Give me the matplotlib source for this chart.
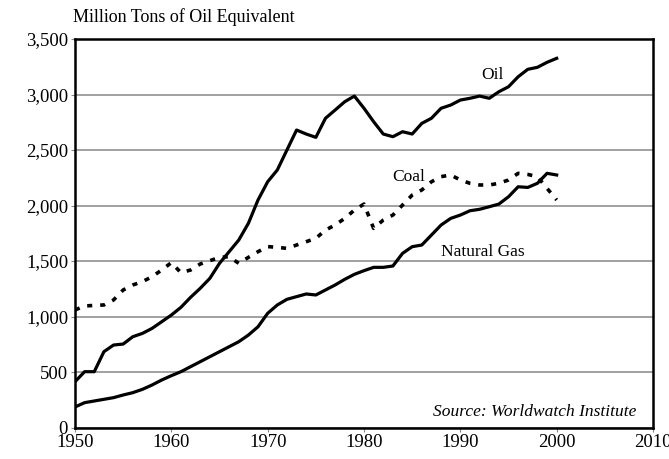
import matplotlib.pyplot as plt
import numpy as np

years = np.arange(1950, 2001)

oil = [413, 503, 503, 683, 743, 752, 818, 848, 893, 953,
       1013, 1083, 1173, 1254, 1344, 1479, 1584, 1689, 1840, 2050,
       2214, 2320, 2500, 2680, 2644, 2614, 2786, 2860, 2935, 2986,
       2876, 2755, 2644, 2620, 2665, 2644, 2740, 2786, 2876, 2905,
       2950, 2966, 2986, 2966, 3025, 3070, 3160, 3227, 3245, 3290,
       3326]

coal = [1059, 1095, 1100, 1104, 1149, 1239, 1284, 1314, 1359, 1419,
        1485, 1395, 1419, 1473, 1503, 1533, 1539, 1479, 1533, 1584,
        1630, 1623, 1614, 1644, 1674, 1704, 1779, 1824, 1884, 1959,
        2013, 1794, 1869, 1914, 2004, 2094, 2140, 2214, 2260, 2275,
        2230, 2200, 2185, 2185, 2200, 2230, 2290, 2280, 2260, 2155,
        2050]

gas = [185, 224, 239, 254, 269, 293, 314, 344, 383, 428,
       467, 503, 548, 593, 638, 683, 728, 773, 833, 908,
       1029, 1104, 1155, 1179, 1203, 1194, 1239, 1284, 1335, 1380,
       1413, 1443, 1443, 1455, 1569, 1629, 1644, 1734, 1824, 1884,
       1914, 1953, 1966, 1989, 2013, 2079, 2169, 2163, 2200, 2290,
       2275]

x_ticks = [1950, 1960, 1970, 1980, 1990, 2000, 2010]
y_ticks = [0, 500, 1000, 1500, 2000, 2500, 3000, 3500]

plt.rcParams['font.family'] = ['Liberation Serif', 'DejaVu Serif']

fig = plt.figure(figsize=(6.69, 4.59), dpi=100)
ax = fig.add_axes([0.1121, 0.0686, 0.8640, 0.8464])

ax.plot(years, oil, color="black", lw=2.3, solid_joinstyle="round")
ax.plot(years, gas, color="black", lw=2.3, solid_joinstyle="round")
ax.plot(years, coal, color="black", lw=2.6, linestyle=(0, (1.4, 2.2)))

# series labels
ax.text(1993.3, 3176, "Oil", fontsize=12.5, ha="center", va="center")
ax.text(1984.6, 2257, "Coal", fontsize=12.5, ha="center", va="center")
ax.text(1992.3, 1581, "Natural Gas", fontsize=12.5, ha="center", va="center")
ax.text(2008.3, 140, "Source: Worldwatch Institute", fontsize=12.5,
        style="italic", ha="right", va="center")

ax.set_xlim(1950, 2010)
ax.set_ylim(0, 3500)
ax.set_xticks(x_ticks)
ax.set_yticks(y_ticks)
ax.set_yticklabels([f"{v:,}" for v in y_ticks])
ax.tick_params(labelsize=13.5, length=3, width=0.8, color="#888888", pad=2)

ax.grid(axis="y", color="#888888", lw=1.1)
ax.set_axisbelow(True)
for s in ax.spines.values():
    s.set_linewidth(1.8)

fig.text(0.109, 0.962, "Million Tons of Oil Equivalent", fontsize=13, ha="left", va="center")

plt.savefig("out.png", dpi=100)
plt.close()
